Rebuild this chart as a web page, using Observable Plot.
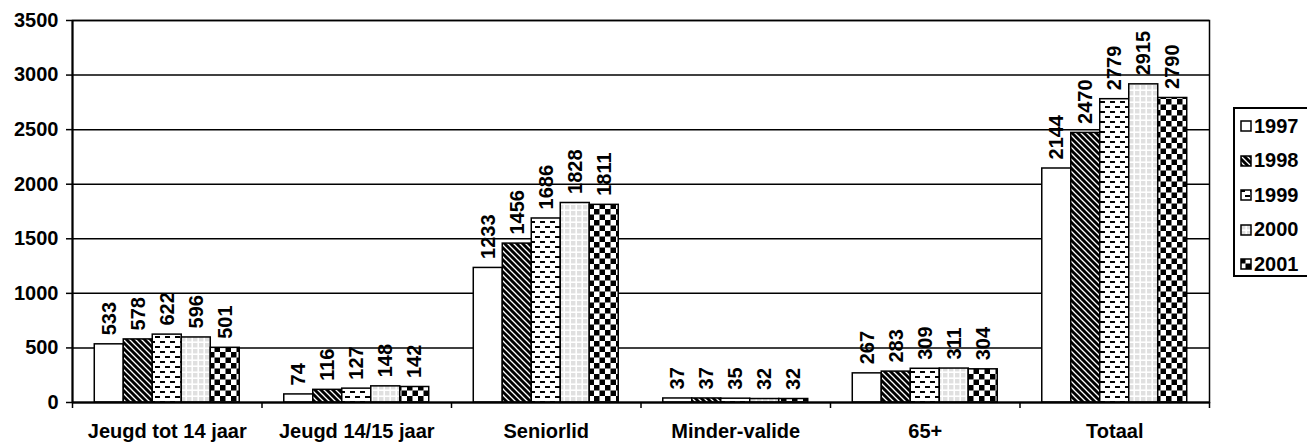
<!DOCTYPE html>
<html>
<head>
<meta charset="utf-8">
<script src="https://cdn.jsdelivr.net/npm/d3@7"></script>
<script src="https://cdn.jsdelivr.net/npm/@observablehq/plot@0.6"></script>
<style>
  html, body { margin: 0; padding: 0; background: #fff; }
  #wrap { position: relative; width: 1307px; height: 443px; overflow: hidden; font-family: Arial, "Liberation Sans", sans-serif; }
  #legend { position: absolute; left: 1233px; top: 107px; width: 90px; height: 170px; border: 2px solid #000; background: #fff; box-sizing: border-box; }
  .item { position: absolute; left: 5px; height: 22px; display: flex; align-items: center; font-weight: bold; font-size: 20px; color: #000; }
  .item svg { margin-right: 2px; }
</style>
</head>
<body>
<div id="wrap"></div>
<script>
const categories = ["Jeugd tot 14 jaar", "Jeugd 14/15 jaar", "Seniorlid", "Minder-valide", "65+", "Totaal"];
const years = ["1997", "1998", "1999", "2000", "2001"];
const v1997 = [533, 74, 1233, 37, 267, 2144];
const v1998 = [578, 116, 1456, 37, 283, 2470];
const v1999 = [622, 127, 1686, 35, 309, 2779];
const v2000 = [596, 148, 1828, 32, 311, 2915];
const v2001 = [501, 142, 1811, 32, 304, 2790];
const yTicks = [0, 500, 1000, 1500, 2000, 2500, 3000, 3500];

const series = [v1997, v1998, v1999, v2000, v2001];
const rows = [];
categories.forEach((c, ci) => years.forEach((y, yi) => rows.push({category: c, ci, year: y, yi, value: series[yi][ci]})));

const BW = 0.153; // bar width as a fraction of a category slot
const FONT = "Arial, 'Liberation Sans', sans-serif";
const FS = 20;

const defs = () => {
  const ns = "http://www.w3.org/2000/svg";
  const d = document.createElementNS(ns, "defs");
  d.innerHTML = `
    <pattern id="pat1997" patternUnits="userSpaceOnUse" width="6" height="6"><rect width="6" height="6" fill="#fff"/></pattern>
    <pattern id="pat1998" patternUnits="userSpaceOnUse" width="6" height="6">
      <rect width="6" height="6" fill="#000"/>
      <path d="M-1,-1L7,7M-1,5L1,7M5,-1L7,1" stroke="#fff" stroke-width="1.3"/>
    </pattern>
    <pattern id="pat1999" patternUnits="userSpaceOnUse" width="10" height="10">
      <rect width="10" height="10" fill="#fff"/>
      <rect x="0" y="1" width="5" height="2" fill="#000"/>
      <rect x="5" y="6" width="5" height="2" fill="#000"/>
    </pattern>
    <pattern id="pat2000" patternUnits="userSpaceOnUse" width="6" height="6">
      <rect width="6" height="6" fill="#fff"/>
      <rect x="1" y="1" width="4.4" height="4.4" fill="#e0e0e0"/>
    </pattern>
    <pattern id="pat2001" patternUnits="userSpaceOnUse" width="11" height="11">
      <rect width="11" height="11" fill="#fff"/>
      <rect x="0" y="0" width="5.5" height="5.5" fill="#000"/>
      <rect x="5.5" y="5.5" width="5.5" height="5.5" fill="#000"/>
    </pattern>`;
  return d;
};

const chart = Plot.plot({
  width: 1307,
  height: 443,
  marginLeft: 72,
  marginRight: 98,
  marginTop: 20,
  marginBottom: 41,
  style: {fontFamily: FONT, fontSize: FS + "px", fontWeight: "bold", color: "#000", background: "transparent", overflow: "visible"},
  x: {domain: [-0.5, categories.length - 0.5], axis: null},
  y: {domain: [0, 3500], axis: null},
  color: {type: "ordinal", domain: years, range: years.map(y => `url(#pat${y})`)},
  marks: [
    defs,
    Plot.gridY(yTicks, {stroke: "#000", strokeOpacity: 1, strokeWidth: 1.5}),
    Plot.axisY(yTicks, {label: null, tickSize: 6, tickPadding: 8, stroke: "#000", strokeWidth: 1.5, fill: "#000", tickFormat: d => String(d), fontSize: FS, fontWeight: "bold"}),
    Plot.rectY(rows, {
      x1: d => d.ci + (d.yi - 2.5) * BW,
      x2: d => d.ci + (d.yi - 1.5) * BW,
      y1: 0, y2: "value",
      fill: "year", stroke: "#000", strokeWidth: 1.5
    }),
    Plot.text(rows, {
      x: d => d.ci + (d.yi - 2) * BW,
      y: "value",
      text: d => String(d.value),
      rotate: -90, textAnchor: "start", lineAnchor: "middle",
      dy: -9, fill: "#000", fontSize: FS, fontWeight: "bold"
    }),
    Plot.frame({stroke: "#000", strokeWidth: 1.5}),
    Plot.ruleY([0], {stroke: "#000", strokeWidth: 2}),
    Plot.ruleX([-0.5], {stroke: "#000", strokeWidth: 2}),
    Plot.axisX(d3.range(categories.length + 1).map(i => i - 0.5), {label: null, tickSize: 6, stroke: "#000", strokeWidth: 1.5, tickFormat: () => ""}),
    Plot.axisX(d3.range(categories.length), {label: null, tickSize: 0, tickPadding: 21, tickFormat: i => categories[i], fill: "#000", fontSize: FS, fontWeight: "bold"})
  ]
});

const wrap = document.getElementById("wrap");
wrap.appendChild(chart);

const legend = document.createElement("div");
legend.id = "legend";
years.forEach((y, i) => {
  const it = document.createElement("div");
  it.className = "item";
  it.style.top = (6 + i * 34.5) + "px";
  it.innerHTML = `<svg width="12" height="12"><rect x="1" y="1" width="10" height="10" fill="url(#pat${y})" stroke="#000" stroke-width="1.5"/></svg>${y}`;
  legend.appendChild(it);
});
wrap.appendChild(legend);
</script>
</body>
</html>
